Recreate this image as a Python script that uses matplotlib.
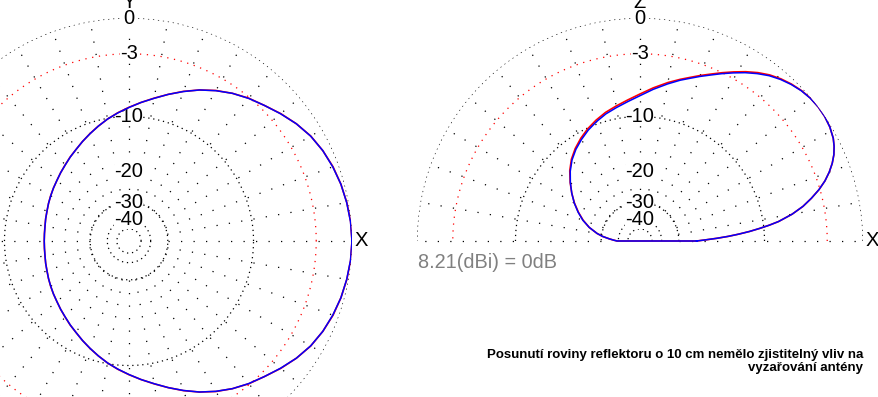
import numpy as np
import matplotlib
matplotlib.use("Agg")
import matplotlib.pyplot as plt

plt.rcParams['font.family'] = ['Liberation Sans', 'DejaVu Sans']

# azimuth cut (XY plane), 0..180 deg, pattern is symmetric about X
az_deg = [0, 5, 10, 15, 20, 25, 30, 35, 40, 45, 50, 55, 60, 65, 70, 75, 80, 85, 90,
          95, 100, 105, 110, 115, 120, 125, 130, 135, 140, 145, 150, 155, 160, 165,
          170, 175, 180]
az_before = [0.0, -0.04, -0.14, -0.28, -0.46, -0.72, -1.04, -1.5, -2.03, -2.6, -3.08, -3.65,
             -4.28, -5.0, -5.78, -6.6, -7.38, -8.1, -8.78, -9.43, -10.1, -10.8, -11.48,
             -12.15, -12.8, -13.33, -13.88, -14.35, -14.8, -15.15, -15.48, -15.8, -16.1,
             -16.3, -16.48, -16.58, -16.6]
az_after = [0.0, -0.05, -0.15, -0.28, -0.48, -0.72, -1.05, -1.5, -2.05, -2.6, -3.1, -3.65,
            -4.3, -5.0, -5.8, -6.6, -7.4, -8.1, -8.8, -9.45, -10.1, -10.8, -11.5,
            -12.15, -12.8, -13.35, -13.9, -14.35, -14.8, -15.15, -15.5, -15.8, -16.1,
            -16.3, -16.5, -16.58, -16.6]

# elevation cut (XZ plane), 0..180 deg
el_deg = [0, 1, 2, 3, 4, 5, 6, 7, 8, 10, 12, 14, 16, 18, 20, 22, 24, 26, 28, 31, 34, 37,
          40, 43, 46, 49, 52, 55, 58, 61, 64, 67, 70, 73, 76, 80, 85, 90, 95, 100, 105,
          110, 115, 120, 125, 130, 135, 140, 145, 150, 155, 160, 165, 170, 173, 176, 178, 180]
el_before = [-23.5, -21.0, -18.3, -15.9, -13.9, -12.1, -10.6, -9.2, -8.0, -6.3, -5.0, -4.0,
             -3.1, -2.35, -1.75, -1.25, -0.85, -0.55, -0.32, -0.12, -0.02, 0.0, -0.05,
             -0.18, -0.38, -0.64, -0.97, -1.4, -1.9, -2.45, -3.0, -3.55, -4.05, -4.55,
             -5.0, -5.6, -6.38, -7.15, -7.8, -8.35, -8.85, -9.45, -10.1, -10.85, -11.68,
             -12.65, -13.88, -15.35, -16.9, -18.55, -20.4, -22.4, -24.8, -28.0, -30.5,
             -34.0, -36.5, -39.0]
el_after = [-23.5, -21.0, -18.3, -15.9, -13.9, -12.1, -10.6, -9.2, -8.0, -6.3, -5.0, -4.0,
            -3.1, -2.35, -1.75, -1.25, -0.85, -0.55, -0.32, -0.12, -0.02, 0.0, -0.06,
            -0.2, -0.42, -0.7, -1.05, -1.5, -2.0, -2.55, -3.1, -3.65, -4.15, -4.65,
            -5.1, -5.75, -6.55, -7.35, -8.0, -8.55, -9.05, -9.65, -10.3, -11.05, -11.85,
            -12.8, -14.0, -15.4, -16.9, -18.5, -20.3, -22.3, -24.8, -28.0, -30.5,
            -34.0, -36.5, -39.0]

ring_levels = [0, -3, -10, -30, -40, -50]
label_levels = [0, -3, -10, -20, -30, -40]
gain_text = "8.21(dBi) = 0dB"
note = "Posunutí roviny reflektoru o 10 cm nemělo zjistitelný vliv na\nvyzařování antény"


# ARRL style log-periodic radial scale
def arrl(db):
    return 0.89 ** (-np.asarray(db, dtype=float) / 2.0)


def arrl_inv(r):
    return -2.0 * np.log(np.clip(np.asarray(r, dtype=float), 1e-12, None)) / np.log(0.89)


W, H, R = 879, 397, 223
fig = plt.figure(figsize=(W / 100, H / 100), dpi=100)


def polar_panel(cx, cy, full, axis_name):
    ax = fig.add_axes([(cx - R) / W, (H - cy - R) / H, 2 * R / W, 2 * R / H],
                      projection='polar')
    ax.set_rscale('function', functions=(arrl, arrl_inv))
    ax.grid(False)
    ax.set_xticks([])
    ax.set_yticks([])
    ax.spines['polar'].set_visible(False)
    ax.patch.set_visible(False)

    tmax = 2 * np.pi if full else np.pi
    t = np.linspace(0, tmax, 721)
    for lvl in ring_levels:
        col = 'red' if lvl == -3 else 'black'
        gap = 4.5 if lvl == -3 else 3.0
        ax.plot(t, np.full_like(t, lvl), color=col, lw=0.9, ls=(0, (1, gap)), zorder=1)
    spokes = range(0, 360, 10) if full else range(0, 181, 10)
    for a in spokes:
        ax.plot([np.radians(a)] * 2, [-30, 0], color='black', lw=0.9,
                ls=(0, (1, 9)), zorder=1)

    for lvl in label_levels:
        ax.text(np.pi / 2, lvl, str(lvl), ha='center', va='center', fontsize=14.5,
                bbox=dict(facecolor='white', edgecolor='none', pad=0), zorder=2)
    ax.annotate('X', xy=(0, 0), xytext=(6.8, 0), textcoords='offset points',
                ha='center', va='center', fontsize=14.5, annotation_clip=False)
    ax.annotate(axis_name, xy=(np.pi / 2, 0), xytext=(0, 11), textcoords='offset points',
                ha='center', va='center', fontsize=14.5, annotation_clip=False)
    return ax


# left panel: XY plane
ax1 = polar_panel(129, 241, True, 'Y')
th = np.radians(az_deg + [360 - a for a in az_deg[::-1]])
ax1.plot(th, az_before + az_before[::-1], color='red', lw=1.2, zorder=3)
ax1.plot(th, az_after + az_after[::-1], color='blue', lw=1.1, zorder=4)
ax1.set_rlim(-300, 0)

# right panel: XZ plane
ax2 = polar_panel(640, 241, False, 'Z')
th2 = np.radians(el_deg + [0])
ax2.plot(th2, el_before + el_before[:1], color='red', lw=1.2, zorder=3)
ax2.plot(th2, el_after + el_after[:1], color='blue', lw=1.1, zorder=4)
ax2.set_rlim(-300, 0)

fig.text(418 / W, 1 - 263 / H, gain_text, color='#808080', fontsize=14.3,
         ha='left', va='center')
fig.text(863 / W, 1 - 361.5 / H, note, fontsize=9.5, fontweight='bold',
         ha='right', va='center', ma='right', linespacing=1.1)

fig.savefig('out.png', dpi=100)
